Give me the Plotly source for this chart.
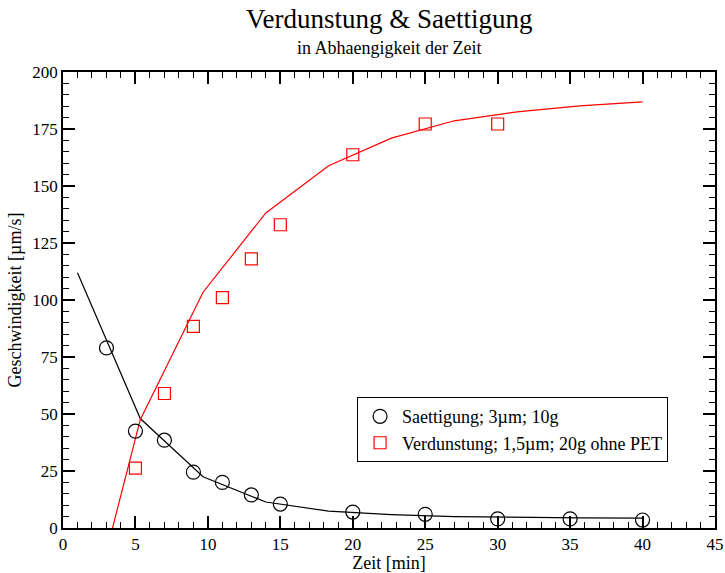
import plotly.graph_objects as go

# --- data ---
t_saett = [3, 5, 7, 9, 11, 13, 15, 20, 25, 30, 35, 40]
v_saett = [79, 42.5, 38.5, 24.5, 20, 14.5, 10.5, 7, 6, 4, 4, 3.5]

t_verd = [5, 7, 9, 11, 13, 15, 20, 25, 30]
v_verd = [26.3, 59, 88.4, 101, 118, 133, 163.7, 177.2, 177.2]

t_fit = [1, 5.333, 9.667, 14, 18.333, 22.667, 27, 31.333, 35.667, 40]
fit_saett = [112, 48, 22.5, 11.4, 7.4, 5.9, 5.0, 4.6, 4.4, 4.3]
fit_verd = [-60, 47.5, 103.4, 138.2, 158.9, 171, 178.6, 182.5, 185.1, 186.9]

name_saett = "Saettigung; 3µm; 10g"
name_verd = "Verdunstung; 1,5µm; 20g ohne PET"

FONT = "Liberation Serif, Times New Roman, serif"

fig = go.Figure()
fig.add_trace(go.Scatter(x=t_fit, y=fit_saett, mode="lines",
                         line=dict(color="black", width=1.2), showlegend=False))
fig.add_trace(go.Scatter(x=t_fit, y=fit_verd, mode="lines",
                         line=dict(color="red", width=1.2), showlegend=False))
fig.add_trace(go.Scatter(x=t_saett, y=v_saett, mode="markers", name=name_saett,
                         marker=dict(symbol="circle-open", size=14, color="black",
                                     line=dict(width=1.2, color="black")),
                         cliponaxis=False))
fig.add_trace(go.Scatter(x=t_verd, y=v_verd, mode="markers", name=name_verd,
                         marker=dict(symbol="square-open", size=12, color="red",
                                     line=dict(width=1.2, color="red")),
                         cliponaxis=False))

axis_common = dict(
    showgrid=False, zeroline=False, showline=True, linecolor="black", linewidth=1.5,
    mirror="ticks", ticks="inside", ticklen=12, tickwidth=1.5, tickcolor="black",
    tickfont=dict(family=FONT, size=17, color="black"), automargin=False,
)

fig.update_layout(
    width=725, height=573,
    margin=dict(l=63, r=10, t=72, b=45),
    paper_bgcolor="white", plot_bgcolor="white",
    font=dict(family=FONT, color="black"),
    xaxis=dict(range=[0, 45], dtick=5, tick0=0,
               minor=dict(dtick=1, ticks="inside", ticklen=6, tickwidth=1.2, tickcolor="black"),
               title=dict(text="Zeit [min]", font=dict(family=FONT, size=18), standoff=0),
               **axis_common),
    yaxis=dict(range=[0, 200], dtick=25, tick0=0,
               minor=dict(dtick=5, ticks="inside", ticklen=6, tickwidth=1.2, tickcolor="black"),
               title=dict(text="Geschwindigkeit [µm/s]", font=dict(family=FONT, size=18), standoff=6),
               **axis_common),
    legend=dict(x=0.451, y=0.287, xanchor="left", yanchor="top",
                bgcolor="white", bordercolor="black", borderwidth=1,
                itemwidth=34,
                font=dict(family=FONT, size=18, color="black")),
    annotations=[
        dict(text="Verdunstung & Saettigung", x=0.5, y=1.116, xref="paper", yref="paper",
             xanchor="center", yanchor="middle", showarrow=False,
             font=dict(family=FONT, size=27, color="black")),
        dict(text="in Abhaengigkeit der Zeit", x=0.5, y=1.052, xref="paper", yref="paper",
             xanchor="center", yanchor="middle", showarrow=False,
             font=dict(family=FONT, size=18, color="black")),
    ],
)

fig.write_html("out.html")
